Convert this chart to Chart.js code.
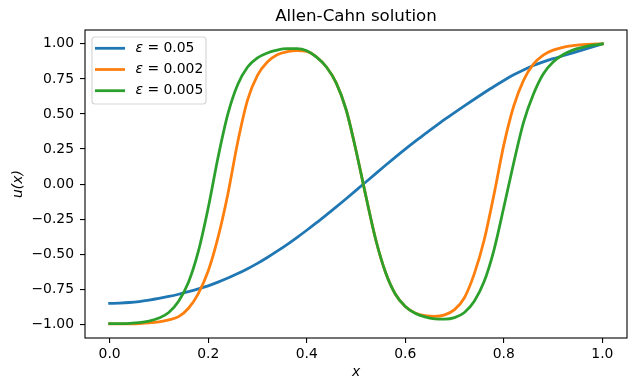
<!DOCTYPE html>
<html>
<head>
<meta charset="utf-8">
<script src="https://cdn.jsdelivr.net/npm/chart.js@4.4.1/dist/chart.umd.min.js"></script>
<style>
  html, body { margin: 0; padding: 0; background: #fff; }
  canvas { display: block; }
</style>
</head>
<body>
<canvas id="c" width="636" height="391"></canvas>
<script>
const xs = [0.00,0.02,0.04,0.06,0.08,0.10,0.12,0.14,0.16,0.18,
            0.20,0.22,0.24,0.26,0.28,0.30,0.32,0.34,0.36,0.38,
            0.40,0.42,0.44,0.46,0.48,0.50,0.52,0.54,0.56,0.58,
            0.60,0.62,0.64,0.66,0.68,0.70,0.72,0.74,0.76,0.78,
            0.80,0.82,0.84,0.86,0.88,0.90,0.92,0.94,0.96,0.98,1.00];

const uEps005 = [-0.850,-0.848,-0.844,-0.837,-0.827,-0.815,-0.801,-0.785,-0.767,-0.747,
                 -0.725,-0.699,-0.670,-0.638,-0.603,-0.565,-0.523,-0.478,-0.431,-0.381,
                 -0.329,-0.275,-0.219,-0.162,-0.104,-0.045,0.015,0.075,0.134,0.192,
                 0.249,0.304,0.358,0.410,0.461,0.510,0.558,0.605,0.651,0.696,
                 0.739,0.779,0.814,0.845,0.871,0.894,0.915,0.936,0.957,0.978,1.000];

const uEps0002 = [-0.997,-0.997,-0.996,-0.994,-0.990,-0.982,-0.968,-0.945,-0.885,-0.780,
                  -0.620,-0.380,-0.070,0.300,0.600,0.775,0.870,0.922,0.944,0.952,
                  0.946,0.906,0.835,0.720,0.530,0.240,-0.085,-0.395,-0.630,-0.785,
                  -0.872,-0.918,-0.938,-0.943,-0.932,-0.895,-0.810,-0.640,-0.400,-0.075,
                  0.280,0.555,0.740,0.855,0.920,0.955,0.975,0.987,0.994,0.998,1.000];

const uEps0005 = [-0.995,-0.994,-0.992,-0.987,-0.976,-0.955,-0.915,-0.835,-0.700,-0.480,
                  -0.170,0.190,0.500,0.710,0.835,0.900,0.935,0.955,0.965,0.965,
                  0.950,0.905,0.835,0.720,0.530,0.240,-0.085,-0.395,-0.630,-0.785,
                  -0.872,-0.920,-0.946,-0.960,-0.963,-0.952,-0.915,-0.835,-0.695,-0.470,
                  -0.165,0.150,0.440,0.640,0.785,0.870,0.922,0.955,0.975,0.990,1.000];

const seriesLabels = ['ε = 0.05', 'ε = 0.002', 'ε = 0.005'];
const seriesColors = ['#1f77b4', '#ff7f0e', '#2ca02c'];

const xTicks = [0.0, 0.2, 0.4, 0.6, 0.8, 1.0];
const xTickLabels = ['0.0', '0.2', '0.4', '0.6', '0.8', '1.0'];
const yTicks = [-1.00, -0.75, -0.50, -0.25, 0.00, 0.25, 0.50, 0.75, 1.00];
const yTickLabels = ['\u22121.00', '\u22120.75', '\u22120.50', '\u22120.25', '0.00', '0.25', '0.50', '0.75', '1.00'];

const FONT = '"DejaVu Sans", "Liberation Sans", sans-serif';
const FS = 13.9;

function toPoints(ys) { return xs.map((x, i) => ({ x: x, y: ys[i] })); }

const allSeries = [uEps005, uEps0002, uEps0005];
const datasets = allSeries.map((ys, i) => ({
  label: seriesLabels[i],
  data: toPoints(ys),
  borderColor: seriesColors[i],
  backgroundColor: seriesColors[i],
  borderWidth: 2.78,
  pointRadius: 0,
  fill: false,
  cubicInterpolationMode: 'monotone',
  borderCapStyle: 'square',
  borderJoinStyle: 'round',
  order: allSeries.length - i
}));

const framePlugin = {
  id: 'mplFrame',
  afterDatasetsDraw(chart) {
    const { ctx, chartArea: a } = chart;
    ctx.save();
    ctx.strokeStyle = '#000';
    ctx.lineWidth = 1.1;
    ctx.strokeRect(a.left, a.top, a.right - a.left, a.bottom - a.top);
    ctx.restore();
  }
};

const legendPlugin = {
  id: 'mplLegend',
  afterDraw(chart) {
    const { ctx, chartArea: a } = chart;
    const x0 = a.left + 7, y0 = a.top + 7, w = 114, h = 67;
    ctx.save();
    ctx.beginPath();
    if (ctx.roundRect) ctx.roundRect(x0, y0, w, h, 3); else ctx.rect(x0, y0, w, h);
    ctx.fillStyle = 'rgba(255,255,255,0.8)';
    ctx.fill();
    ctx.strokeStyle = 'rgba(204,204,204,0.8)';
    ctx.lineWidth = 1.2;
    ctx.stroke();
    chart.data.datasets.forEach((ds, i) => {
      const y = y0 + 11.3 + i * 21.2;
      ctx.strokeStyle = ds.borderColor;
      ctx.lineWidth = 2.78;
      ctx.lineCap = 'square';
      ctx.beginPath();
      ctx.moveTo(x0 + 4.4, y);
      ctx.lineTo(x0 + 31.6, y);
      ctx.stroke();
      ctx.fillStyle = '#000';
      ctx.textBaseline = 'middle';
      ctx.textAlign = 'left';
      const sym = ds.label.charAt(0);
      const rest = ds.label.slice(1);
      let tx = x0 + 43.5;
      ctx.font = 'italic ' + FS + 'px ' + FONT;
      ctx.fillText(sym, tx, y);
      tx += ctx.measureText(sym).width;
      ctx.font = FS + 'px ' + FONT;
      ctx.fillText(rest, tx, y);
    });
    ctx.restore();
  }
};

new Chart(document.getElementById('c'), {
  type: 'line',
  data: { datasets: datasets },
  plugins: [framePlugin, legendPlugin],
  options: {
    responsive: false,
    animation: false,
    devicePixelRatio: 1,
    events: [],
    layout: { padding: { left: 0, right: 9, top: 0, bottom: 0 } },
    plugins: {
      legend: { display: false },
      tooltip: { enabled: false },
      title: {
        display: true,
        text: 'Allen-Cahn solution',
        fullSize: false,
        color: '#000',
        font: { family: FONT, size: 16.67, weight: 'normal', lineHeight: 1.2 },
        padding: { top: 7, bottom: 3 }
      }
    },
    scales: {
      x: {
        type: 'linear',
        min: -0.05,
        max: 1.05,
        afterBuildTicks: (s) => { s.ticks = xTicks.map(v => ({ value: v })); },
        afterFit: (s) => { s.height = 53; },
        ticks: {
          autoSkip: false,
          maxRotation: 0,
          padding: 3,
          color: '#000',
          font: { family: FONT, size: FS },
          callback: (v, i) => xTickLabels[i]
        },
        grid: { display: true, drawOnChartArea: false, drawTicks: true, tickLength: 5, color: '#000', lineWidth: 1.1 },
        border: { display: false },
        title: {
          display: true,
          text: 'x',
          color: '#000',
          font: { family: FONT, size: FS, style: 'italic' },
          padding: { top: 0, bottom: 10 }
        }
      },
      y: {
        type: 'linear',
        min: -1.097,
        max: 1.0985,
        afterBuildTicks: (s) => { s.ticks = yTicks.map(v => ({ value: v })); },
        afterFit: (s) => { s.width = 85; },
        ticks: {
          autoSkip: false,
          padding: 6,
          color: '#000',
          font: { family: FONT, size: FS },
          callback: (v, i) => yTickLabels[i]
        },
        grid: { display: true, drawOnChartArea: false, drawTicks: true, tickLength: 5, color: '#000', lineWidth: 1.1 },
        border: { display: false },
        title: {
          display: true,
          text: 'u(x)',
          color: '#000',
          font: { family: FONT, size: FS, style: 'italic' },
          padding: { top: 10, bottom: 0 }
        }
      }
    }
  }
});
</script>
</body>
</html>
